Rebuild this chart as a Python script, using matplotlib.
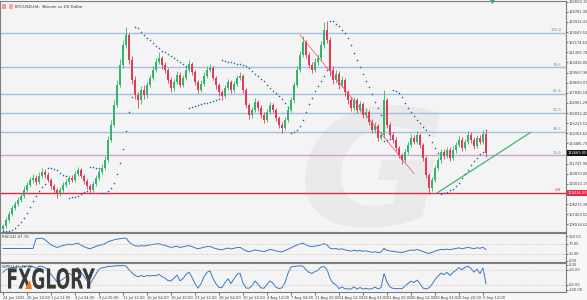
import numpy as np
import pandas as pd
import matplotlib
matplotlib.use('Agg')
import matplotlib.pyplot as plt
from matplotlib.patches import Rectangle, PathPatch, Polygon
from matplotlib.textpath import TextPath
from matplotlib.font_manager import FontProperties
from matplotlib.transforms import Affine2D, blended_transform_factory

# BTCUSD H4 (two 4h bars per candle), prices
open0 = 106148
closes = [106405, 106920, 107435, 107950, 108293, 108636, 108979, 109494, 109923, 110352,
          110524, 110180, 110695, 111038, 110781, 110352, 109837, 109494, 109151, 109494,
          109923, 110180, 110524, 110352, 110867, 111210, 110695, 110266, 109837, 109494,
          110009, 110524, 111038, 111382, 112068, 113784, 115071, 116787, 118503, 120219,
          121935, 122793, 120648, 118932, 117645, 117216, 118074, 117645, 118503, 119104,
          119790, 120476, 120820, 120219, 119790, 118932, 118246, 118760, 119361, 118503,
          119104, 119790, 120305, 119618, 118760, 118074, 118589, 119275, 119790, 119962,
          119104, 118503, 117902, 117559, 118246, 118760, 118074, 118589, 119104, 119275,
          118074, 116787, 115929, 116358, 117044, 116530, 115929, 115500, 116186, 116787,
          116358, 115672, 115071, 114814, 115500, 116358, 117216, 118503, 119790, 121077,
          122192, 121077, 120219, 119790, 120476, 120820, 121935, 123222, 122364, 119790,
          118932, 119447, 118503, 118932, 117902, 117216, 116530, 117216, 116358, 116873,
          115929, 116186, 115328, 114642, 114985, 113956, 114213, 117216, 115071, 114213,
          113784, 113098, 112497, 112068, 112754, 113355, 113956, 113612, 114213, 113355,
          112240, 110781, 109666, 110352, 111382, 112068, 112754, 112411, 112926, 112240,
          112926, 113355, 113784, 113098, 113612, 114213, 113784, 113269, 113956, 113612,
          114299, 112669]
highs = [106600, 107150, 107700, 108200, 108550, 108900, 109250, 109800, 110150, 110650,
         110900, 110800, 111000, 111400, 111300, 111000, 110550, 110050, 109700, 109750,
         110200, 110450, 110800, 110750, 111100, 111500, 111400, 110900, 110450, 110050,
         110250, 110800, 111300, 111700, 112400, 114100, 115500, 117200, 118900, 120700,
         122400, 123480, 123000, 121000, 119300, 117900, 118400, 118500, 118800, 119400,
         120100, 120800, 121330, 121000, 120500, 120000, 119200, 119000, 119700, 119600,
         119400, 120100, 120650, 120500, 119800, 118900, 118900, 119600, 120100, 120300,
         120150, 119300, 118700, 118100, 118500, 119000, 118950, 118850, 119400, 119620,
         119450, 118250, 117000, 116650, 117350, 117250, 116750, 116150, 116450, 117050,
         117000, 116550, 115850, 115300, 115800, 116650, 117500, 118800, 120100, 121400,
         122700, 122400, 121300, 120500, 120800, 121150, 122250, 123900, 123990, 122600,
         120100, 119800, 119700, 119250, 119100, 118100, 117450, 117500, 117400, 117150,
         117050, 116500, 116400, 115550, 115300, 115150, 114500, 118074, 117400, 115300,
         114450, 114000, 113300, 112700, 113050, 113650, 114300, 114200, 114550, 114400,
         113550, 112450, 110950, 110600, 111650, 112350, 113050, 113000, 113200, 113150,
         113250, 113650, 114100, 114000, 113900, 114550, 114450, 114000, 114250, 114200,
         114650, 114550]
lows = [105950, 106250, 106750, 107250, 107800, 108100, 108450, 108800, 109300, 109750,
        110100, 109950, 110000, 110500, 110550, 110150, 109600, 109250, 108850, 108950,
        109300, 109750, 110000, 110150, 110200, 110700, 110500, 110050, 109600, 109200,
        109300, 109850, 110350, 110850, 111200, 111900, 113600, 114900, 116600, 118300,
        120000, 121700, 120300, 118600, 117300, 116530, 116900, 117300, 117400, 118300,
        118900, 119600, 120300, 119900, 119500, 118700, 117900, 118000, 118600, 118300,
        118300, 118900, 119600, 119400, 118500, 117800, 117900, 118400, 119100, 119600,
        118900, 118200, 117600, 117250, 117400, 118100, 117850, 117900, 118400, 118900,
        117850, 116500, 115600, 115700, 116150, 116300, 115700, 115200, 115300, 116000,
        116100, 115400, 114800, 114380, 114600, 115300, 116150, 117000, 118300, 119600,
        120900, 120800, 119950, 119500, 119600, 120250, 120600, 121700, 122100, 119300,
        118600, 118700, 118200, 118300, 117600, 116900, 116250, 116350, 116100, 116150,
        115650, 115700, 115050, 114350, 114400, 113700, 113750, 113950, 114850, 113950,
        113500, 112800, 112200, 111750, 111900, 112550, 113150, 113400, 113400, 113100,
        111950, 110500, 109150, 109400, 110150, 111200, 111850, 112150, 112200, 112000,
        112050, 112700, 113150, 112850, 112900, 113400, 113550, 113050, 113100, 113400,
        113450, 112350]

price_ticks = [125650.19 - 868.89 * k for k in range(23)]
hidden_ticks = [15, 19]   # covered by the price / line labels
fib_ratios = [0.0, 23.6, 38.2, 50.0, 61.8, 78.6, 100.0]
fib_low, fib_high = 109236.23, 122964.81
trend_up = ([144.7, 175.7], [109237, 114411])
trend_down = ([99, 137], [122793, 110900])
date_labels = ['24 Jun 2025', '26 Jun 20:00', '1 Jul 12:00', '4 Jul 04:00', '8 Jul 20:00',
               '11 Jul 12:00', '16 Jul 04:00', '18 Jul 20:00', '23 Jul 12:00', '28 Jul 04:00',
               '30 Jul 20:00', '4 Aug 12:00', '7 Aug 04:00', '11 Aug 20:00', '14 Aug 12:00',
               '19 Aug 04:00', '21 Aug 20:00', '26 Aug 12:00', '29 Aug 04:00', '2 Sep 20:00',
               '5 Sep 12:00']

c = np.array(closes, float)
h = np.array(highs, float)
l = np.array(lows, float)
o = np.concatenate([[open0], c[:-1]])
x = np.arange(len(c))


def psar(high, low, step=0.02, amax=0.2):
    n = len(high)
    sar = np.zeros(n)
    bull, af, ep = True, step, high[0]
    sar[0] = low[0]
    for i in range(1, n):
        s = sar[i - 1] + af * (ep - sar[i - 1])
        if bull:
            s = min(s, low[i - 1], low[max(i - 2, 0)])
            if low[i] < s:
                bull, s, ep, af = False, ep, low[i], step
            elif high[i] > ep:
                ep, af = high[i], min(af + step, amax)
        else:
            s = max(s, high[i - 1], high[max(i - 2, 0)])
            if high[i] > s:
                bull, s, ep, af = True, ep, high[i], step
            elif low[i] < ep:
                ep, af = low[i], min(af + step, amax)
        sar[i] = s
    return sar


sar = psar(h, l)
delta = pd.Series(c).diff().fillna(0)
up = delta.clip(lower=0).ewm(alpha=1 / 14, adjust=False).mean()
dn = (-delta.clip(upper=0)).ewm(alpha=1 / 14, adjust=False).mean()
rsi = (100 - 100 / (1 + up / dn.replace(0, np.nan))).fillna(50)
hh = pd.Series(h).rolling(14, min_periods=1).max()
ll = pd.Series(l).rolling(14, min_periods=1).min()
wpr = (hh - c) / (hh - ll) * -100

W, H = 587, 300
fig = plt.figure(figsize=(W / 100, H / 100), dpi=100, facecolor='#f7f7f7')


def px_rect(x0, y0, x1, y1):
    return [x0 / W, 1 - y1 / H, (x1 - x0) / W, (y1 - y0) / H]


ax = fig.add_axes(px_rect(0, 1, 566, 232))
ax_rsi = fig.add_axes(px_rect(0, 233, 566, 262), sharex=ax)
ax_wpr = fig.add_axes(px_rect(0, 263, 566, 292), sharex=ax)
for a in (ax, ax_rsi, ax_wpr):
    a.set_facecolor('#f4f4f4')
    for sp in a.spines.values():
        sp.set_color('#7d7d7d')
        sp.set_linewidth(0.8)
    a.yaxis.tick_right()
    a.tick_params(axis='y', labelsize=2.6, length=1.5, width=0.5, pad=0.6, colors='#444')
    a.tick_params(axis='x', length=0, labelbottom=False)

fp_bold = FontProperties(family='DejaVu Sans', weight='bold')
fp_bi = FontProperties(family='DejaVu Sans', weight='bold', style='italic')


def text_patch(s, box, color, fp, zorder):
    tp = TextPath((0, 0), s, size=10, prop=fp)
    bb = tp.get_extents()
    x0, y0, x1, y1 = box
    tr = (Affine2D().translate(-bb.x0, -bb.y0)
          .scale((x1 - x0) / bb.width / 100, (y1 - y0) / bb.height / 100)
          .translate(x0 / 100, (H - y1) / 100) + fig.dpi_scale_trans)
    return PathPatch(tp, transform=tr, facecolor=color, edgecolor='none', zorder=zorder)


# faint watermark
ax.add_patch(text_patch('G', (305, 105, 440, 228), '#eaeaea', fp_bi, 0.5))

# fibonacci levels
fib_rng = fib_high - fib_low
for r in fib_ratios:
    lvl = fib_low + r / 100 * fib_rng
    col = '#e0294a' if r == 0 else ('#cfa3cf' if r == 23.6 else '#a3bfe3')
    ax.axhline(lvl, color=col, lw=1.0, zorder=1)
    ax.text(0.992, lvl + 60, '%.1f' % r, transform=blended_transform_factory(ax.transAxes, ax.transData),
            ha='right', va='bottom', fontsize=2.8, color='#6f93c4' if r else '#e0294a', zorder=2)

# trend lines
ax.plot(trend_up[0], trend_up[1], color='#3cb878', lw=0.9, zorder=4)
ax.plot(trend_down[0], trend_down[1], color='#e8506a', lw=0.5, zorder=4)

# candles
bull = c >= o
cols = np.where(bull, '#35b56c', '#e33a55')
ax.vlines(x, l, h, colors=cols, lw=0.6, zorder=3)
ax.bar(x, np.maximum(np.abs(c - o), 40), bottom=np.minimum(o, c), width=0.7,
       color=cols, edgecolor='none', zorder=3)
ax.scatter(x, sar, s=1.3, color='#2b62ad', linewidths=0, zorder=5)

ax.set_xlim(-1, 187.67)
ax.set_ylim(105890, 125710)
ax.set_yticks([p for k, p in enumerate(price_ticks) if k not in hidden_ticks])
ax.set_yticklabels(['%.2f' % p for k, p in enumerate(price_ticks) if k not in hidden_ticks])

ytr = blended_transform_factory(ax.transAxes, ax.transData)
ax.text(1.003, c[-1], '%.2f' % c[-1], transform=ytr, ha='left', va='center', fontsize=2.6,
        color='white', bbox=dict(boxstyle='square,pad=0.3', fc='#111111', ec='none'), clip_on=False, zorder=6)
ax.text(1.003, fib_low, '%.2f' % fib_low, transform=ytr, ha='left', va='center', fontsize=2.6,
        color='white', bbox=dict(boxstyle='square,pad=0.3', fc='#e0294a', ec='none'), clip_on=False, zorder=6)
ax.plot([len(c) + 1], [1.0], marker='v', ms=2.5, color='#2fb36b',
        transform=blended_transform_factory(ax.transData, ax.transAxes), clip_on=False, zorder=6)

ax.text(0.027, 0.982, 'BTCUSD,H4:  Bitcoin vs US Dollar', transform=ax.transAxes, fontsize=3.0,
        color='#333333', va='top', ha='left')
fig.add_artist(Rectangle((2 / W, 1 - 9 / H), 4 / W, 5 / H, transform=fig.transFigure, fc='#f19a9a', ec='none'))
fig.add_artist(Rectangle((9 / W, 1 - 9 / H), 4 / W, 5 / H, transform=fig.transFigure, fc='#f2a9a9', ec='none'))

# RSI
ax_rsi.plot(x, rsi, color='#3a78c2', lw=0.7)
for lv in (70, 30):
    ax_rsi.axhline(lv, color='#b5b5b5', lw=0.4, ls=(0, (2, 2)))
ax_rsi.set_ylim(-4, 112)
ax_rsi.set_yticks([100, 70, 30, 0])
ax_rsi.set_yticklabels(['100.00', '70.00', '30.00', '0.00'])
ax_rsi.text(0.004, 0.93, 'RSI(14) 47.70', transform=ax_rsi.transAxes, fontsize=2.8, color='#333', va='top')

# Williams %R
ax_wpr.plot(x, wpr, color='#3a78c2', lw=0.7)
for lv in (-20, -80):
    ax_wpr.axhline(lv, color='#b5b5b5', lw=0.4, ls=(0, (2, 2)))
ax_wpr.set_ylim(-108, 6.7)
ax_wpr.set_yticks([0, -20, -80, -100])
ax_wpr.set_yticklabels(['0.00', '-20.00', '-80.00', '-100.00'])
ax_wpr.text(0.004, 0.93, 'WPR(14) -76.46', transform=ax_wpr.transAxes, fontsize=2.8, color='#333', va='top')

label_pos = np.arange(0, 8 * len(date_labels), 8)
ax_wpr.set_xticks(label_pos)
ax_wpr.set_xticklabels(date_labels)
ax_wpr.tick_params(axis='x', labelbottom=True, labelsize=2.6, length=2, width=0.5, pad=0.8, colors='#444')
for t in ax_wpr.get_xticklabels():
    t.set_ha('left')

# logo
fig.add_artist(text_patch('FXGLORY', (8, 268, 95, 289), '#3a3a3a', fp_bold, 10))
fig.add_artist(Polygon([(25 / W, 1 - 289 / H), (30 / W, 1 - 280 / H), (32 / W, 1 - 289 / H)],
                       closed=True, transform=fig.transFigure, fc='#f07d1a', ec='none', zorder=11))

fig.savefig('out.png', dpi=100, facecolor=fig.get_facecolor())
